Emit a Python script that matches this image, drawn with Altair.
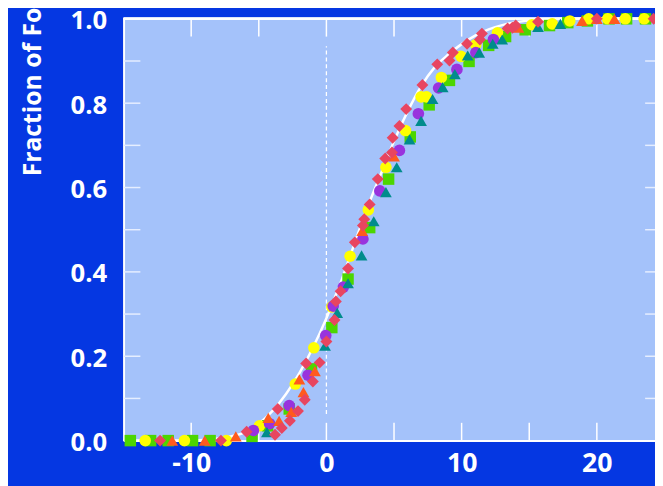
import altair as alt
import pandas as pd

# ---------------- data ----------------
red_x = [-12.3, -7.8, -5.9, -3.8, -3.3, -3.6, -2.7, -2.1, -1.6, -1.0, -1.5, -0.5, 0.0, 0.6, 0.7,
         1.05, 1.6, 2.1, 2.7, 2.8, 3.2, 3.8, 4.35, 4.85, 4.9, 5.4, 5.9, 7.1, 8.2, 9.1, 9.35,
         10.4, 11.35, 11.5, 13.4, 13.75, 14.0, 15.65, 20.0, 24.2]
red_y = [0.0, 0.0, 0.021, 0.014, 0.03, 0.075, 0.047, 0.07, 0.097, 0.14, 0.183, 0.185, 0.235, 0.286, 0.33,
         0.354, 0.408, 0.47, 0.51, 0.525, 0.56, 0.62, 0.669, 0.683, 0.718, 0.746, 0.786, 0.843, 0.892, 0.901, 0.92,
         0.941, 0.951, 0.965, 0.977, 0.979, 0.984, 0.993, 1.0, 1.0]

orange_x = [-11.4, -9.0, -6.7, -4.3, -3.5, -2.6, -1.7, -2.0, -0.85, 2.65, 5.0, 14.2, 18.9, 20.0, 21.3]
orange_y = [0.0, 0.0, 0.01, 0.054, 0.047, 0.068, 0.115, 0.145, 0.165, 0.497, 0.674, 0.979, 0.995, 1.0, 1.0]

yellow_x = [-13.4, -10.5, -7.4, -4.95, -2.3, -0.93, 0.4, 1.75, 3.1, 4.4, 5.85, 7.0, 7.4, 8.5, 9.95,
            11.05, 12.65, 15.2, 16.7, 18.0, 19.4, 20.8, 22.1, 23.5]
yellow_y = [0.0, 0.0, 0.0, 0.035, 0.134, 0.22, 0.317, 0.437, 0.547, 0.648, 0.735, 0.815, 0.815, 0.861, 0.911,
            0.939, 0.967, 0.986, 0.988, 0.995, 1.0, 1.0, 1.0, 1.0]

green_x = [-14.5, -13.0, -11.7, -9.9, -8.6, -5.5, -4.35, -2.75, -1.1, 0.4, 1.6, 3.2, 4.6, 6.2, 7.6,
           9.1, 10.55, 12.0, 13.25, 14.7, 16.5, 17.85, 19.3, 20.9, 22.2, 23.6]
green_y = [0.0, 0.0, 0.0, 0.0, 0.0, 0.01, 0.035, 0.075, 0.17, 0.268, 0.383, 0.505, 0.62, 0.72, 0.796,
           0.854, 0.899, 0.937, 0.958, 0.974, 0.984, 0.991, 0.995, 1.0, 1.0, 1.0]

teal_x = [-4.4, -0.1, 0.8, 1.6, 2.6, 3.5, 4.4, 5.2, 6.15, 7.0, 7.85, 8.6, 9.5, 10.45, 11.3, 12.3, 13.0, 15.65, 17.3]
teal_y = [0.02, 0.225, 0.303, 0.373, 0.439, 0.52, 0.589, 0.648, 0.714, 0.758, 0.81, 0.838, 0.869, 0.913, 0.92,
          0.941, 0.951, 0.981, 0.988]

purple_x = [-5.4, -4.2, -2.75, -1.36, -0.05, 0.5, 1.25, 2.7, 3.95, 5.4, 6.8, 8.3, 9.65, 11.05, 12.35]
purple_y = [0.024, 0.04, 0.083, 0.155, 0.249, 0.319, 0.364, 0.478, 0.592, 0.688, 0.775, 0.836, 0.88, 0.92, 0.951]

curve_x = [-15, -10, -8, -6, -5, -4, -3, -2, -1, 0, 1, 2, 3, 4, 5, 6, 7, 8, 9, 10, 11, 12, 13, 14, 16, 18, 25]
curve_y = [0.0, 0.0, 0.005, 0.02, 0.04, 0.07, 0.11, 0.16, 0.22, 0.29, 0.37, 0.46, 0.55, 0.63, 0.71,
           0.78, 0.84, 0.885, 0.915, 0.94, 0.96, 0.975, 0.985, 0.992, 0.998, 1.0, 1.0]

ref_x = [0, 0]
ref_y = [0.063, 0.935]

x_tick_vals = [-10, -5, 0, 5, 10, 15, 20]
y_tick_vals = [0.1, 0.2, 0.3, 0.4, 0.5, 0.6, 0.7, 0.8, 0.9]
x_label_vals = [-10, 0, 10, 20]
y_label_vals = [0.0, 0.2, 0.4, 0.6, 0.8, 1.0]

series_names = ["green", "yellow", "purple", "teal", "orange", "red"]
series_shapes = ["square", "circle", "circle", "triangle-up", "triangle-up", "diamond"]
series_colors = ["#4CD600", "#FFFF00", "#9933DD", "#008C8C", "#FF5A1E", "#E84560"]
series_sizes = [135, 145, 145, 165, 165, 135]

# ---------------- build tables ----------------
series_data = {
    "green": (green_x, green_y),
    "yellow": (yellow_x, yellow_y),
    "purple": (purple_x, purple_y),
    "teal": (teal_x, teal_y),
    "orange": (orange_x, orange_y),
    "red": (red_x, red_y),
}
rows = []
order = 0
for name in series_names:
    xs_, ys_ = series_data[name]
    for a, b in zip(xs_, ys_):
        rows.append({"x": a, "y": b, "series": name, "o": order})
        order += 1
pts = pd.DataFrame(rows)
curve = pd.DataFrame({"x": curve_x, "y": curve_y})
ref = pd.DataFrame({"x": ref_x, "y": ref_y})
xt = pd.DataFrame({"x": x_tick_vals})
yt = pd.DataFrame({"y": y_tick_vals})

W, H = 538, 427
FONT = "Open Sans"
WHITE = "#FFFFFF"

xs = alt.Scale(domain=[-15, 24.3], nice=False, zero=False)
ys = alt.Scale(domain=[0, 1], nice=False, zero=False)

x_axis = alt.Axis(values=x_label_vals, labelExpr="'' + datum.value", grid=False, ticks=False,
                  domainColor=WHITE, domainWidth=2, labelColor=WHITE, labelFont=FONT,
                  labelFontSize=27, labelFontWeight="bold", labelPadding=10, labelFlush=False,
                  labelOverlap=False, title=None)
y_axis = alt.Axis(values=y_label_vals, format=".1f", grid=False, ticks=False,
                  domainColor=WHITE, domainWidth=2, labelColor=WHITE, labelFont=FONT,
                  labelFontSize=26, labelFontWeight="bold", labelPadding=17, labelFlush=False,
                  labelOverlap=False, labelOffset=2,
                  title="Fraction of Folded Protein", titleColor=WHITE, titleFont=FONT,
                  titleFontSize=25, titleFontWeight="bold", titleAngle=270, titleAlign="left",
                  titleBaseline="alphabetic", titleX=-84, titleY=159)

line = alt.Chart(curve).mark_line(color=WHITE, strokeWidth=2.5, interpolate="monotone").encode(
    x=alt.X("x:Q", scale=xs, axis=x_axis),
    y=alt.Y("y:Q", scale=ys, axis=y_axis),
)

dash = alt.Chart(ref).mark_line(color=WHITE, strokeWidth=1.3, strokeDash=[4, 3]).encode(
    x=alt.X("x:Q", scale=xs),
    y=alt.Y("y:Q", scale=ys),
)

tick_style = dict(color=WHITE, strokeWidth=1.5)
bottom_ticks = alt.Chart(xt).mark_rule(**tick_style).encode(
    x=alt.X("x:Q", scale=xs), y=alt.value(H), y2=alt.value(H - 18))
top_ticks = alt.Chart(xt).mark_rule(**tick_style).encode(
    x=alt.X("x:Q", scale=xs), y=alt.value(0), y2=alt.value(18))
left_ticks = alt.Chart(yt).mark_rule(color="#E6EEFF", strokeWidth=1.5).encode(
    y=alt.Y("y:Q", scale=ys), x=alt.value(0), x2=alt.value(17))
right_ticks = alt.Chart(yt).mark_rule(color="#E6EEFF", strokeWidth=1.5).encode(
    y=alt.Y("y:Q", scale=ys), x=alt.value(W - 10), x2=alt.value(W))
top_line = alt.Chart(xt).mark_rule(color=WHITE, strokeWidth=2).encode(
    x=alt.value(0), x2=alt.value(W), y=alt.value(0))

points = alt.Chart(pts).mark_point(filled=True, opacity=1, strokeWidth=0, clip=False).encode(
    x=alt.X("x:Q", scale=xs),
    y=alt.Y("y:Q", scale=ys),
    shape=alt.Shape("series:N", scale=alt.Scale(domain=series_names, range=series_shapes), legend=None),
    color=alt.Color("series:N", scale=alt.Scale(domain=series_names, range=series_colors), legend=None),
    size=alt.Size("series:N", scale=alt.Scale(domain=series_names, range=series_sizes), legend=None),
    order=alt.Order("o:Q"),
)

chart = alt.layer(
    line, dash, bottom_ticks, top_ticks, left_ticks, right_ticks, top_line, points
).properties(
    width=W, height=H,
    autosize=alt.AutoSizeParams(type="none"),
    padding={"left": 117, "top": 8, "right": 0, "bottom": 43},
    background="#0537E2",
).configure_view(
    fill="#A4C2FA", stroke="transparent"
)

chart.save("out.html", embed_options={"renderer": "svg", "actions": False})
